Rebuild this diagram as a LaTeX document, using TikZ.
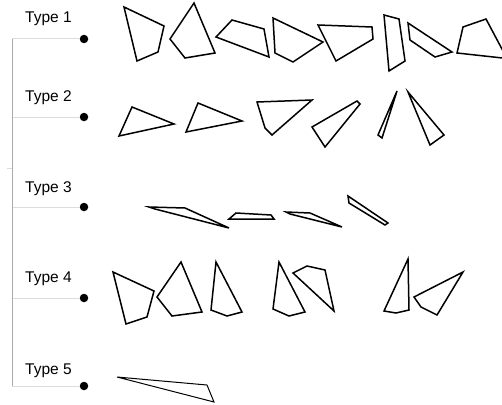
\documentclass[tikz,border=0pt]{standalone}
\usepackage{fontspec}
\setmainfont{Liberation Sans}
\begin{document}
\begin{tikzpicture}[x={(1pt,0)},y={(0,-1pt)},
  poly/.style={draw=black,line width=1.5pt,line join=miter},
  thinpoly/.style={draw=black,line width=1pt},
  dotnode/.style={circle,fill=black,inner sep=0pt,minimum size=8.5pt},
  lbl/.style={anchor=west,inner sep=0pt,font=\fontsize{15.5}{17}\selectfont},
  trunk/.style={draw={rgb,255:red,170;green,170;blue,170},line width=1pt},
  branch/.style={draw={rgb,255:red,220;green,220;blue,220},line width=1pt}]
\useasboundingbox (0,0) rectangle (502,404);
\clip (0,0) rectangle (502,404);
% tree structure
\coordinate (top) at (12,39);
\coordinate (bot) at (12,386);
\coordinate (b1) at (12,39);
\coordinate (b2) at (12,117);
\coordinate (b3) at (12,207);
\coordinate (b4) at (12,298);
\coordinate (b5) at (12,386);
\coordinate (t1) at (7,168);
\coordinate (t2) at (12,168);
\node[dotnode] (d1) at (84,39) {};
\node[dotnode] (d2) at (84,117) {};
\node[dotnode] (d3) at (84,207) {};
\node[dotnode] (d4) at (84,298) {};
\node[dotnode] (d5) at (84,386) {};
\draw[branch] (b1) -- (d1);
\draw[branch] (b2) -- (d2);
\draw[branch] (b3) -- (d3);
\draw[branch] (b4) -- (d4);
\draw[branch] (b5) -- (d5);
\draw[branch] (t1) -- (t2);
\draw[trunk] (top) -- (bot);
\node[lbl] (l1) at (25,19) {Type 1};
\node[lbl] (l2) at (25,98) {Type 2};
\node[lbl] (l3) at (25,189) {Type 3};
\node[lbl] (l4) at (25,279) {Type 4};
\node[lbl] (l5) at (25,371) {Type 5};
% Type 1
\draw[poly] (124,7) -- (164,26) -- (158,52) -- (137,61) -- cycle;
\draw[poly] (194,3) -- (215,53) -- (185,58) -- (170,39) -- cycle;
\draw[poly] (232,20) -- (264,29) -- (269,57) -- (216,37) -- cycle;
\draw[poly] (273,18) -- (323,42) -- (293,62) -- (275,53) -- cycle;
\draw[poly] (318,25) -- (372,27) -- (373,39) -- (336,61) -- cycle;
\draw[poly] (384,15) -- (399,19) -- (405,61) -- (389,71) -- cycle;
\draw[poly] (408,23) -- (452,52) -- (435,57) -- (410,40) -- cycle;
\draw[poly] (463,27) -- (486,19) -- (507,58.5) -- (457,53) -- cycle;
% Type 2
\draw[poly] (132,107) -- (174,124) -- (119,136) -- cycle;
\draw[poly] (198,103) -- (242,121) -- (186,132) -- cycle;
\draw[poly] (257,102) -- (312,100) -- (272,135) -- (265,128) -- cycle;
\draw[poly] (312,127) -- (357,101) -- (360,104) -- (325,147) -- cycle;
\draw[poly] (397,91) -- (382,138) -- (378,135) -- cycle;
\draw[poly] (408,92) -- (444,135) -- (430,145) -- cycle;
% Type 3
\draw[poly] (149,207) -- (185,208) -- (229,228) -- (155,209) -- cycle;
\draw[poly] (229,219) -- (236,213) -- (271,215) -- (274,219) -- cycle;
\draw[poly] (286,212) -- (310,213) -- (342,227) -- (290,214) -- cycle;
\draw[poly] (348,196) -- (349,203) -- (385,225) -- (388,223) -- cycle;
% Type 4
\draw[poly] (113,272) -- (154,291) -- (147,317) -- (126,324) -- cycle;
\draw[poly] (181,262) -- (202,312) -- (172,316) -- (157,297) -- cycle;
\draw[poly] (216,262) -- (242,312) -- (227,316) -- (211,310) -- cycle;
\draw[poly] (279,262) -- (305,312) -- (289,316) -- (273,309) -- cycle;
\draw[poly] (293,273) -- (307,266) -- (325,270) -- (334,311) -- cycle;
\draw[poly] (408,259) -- (409,310) -- (396,313) -- (384,311) -- cycle;
\draw[poly] (463,272) -- (437,315) -- (421,307) -- (414,297) -- cycle;
% Type 5
\draw[thinpoly] (117,377) -- (207,385) -- (214,402) -- cycle;
\end{tikzpicture}
\end{document}
